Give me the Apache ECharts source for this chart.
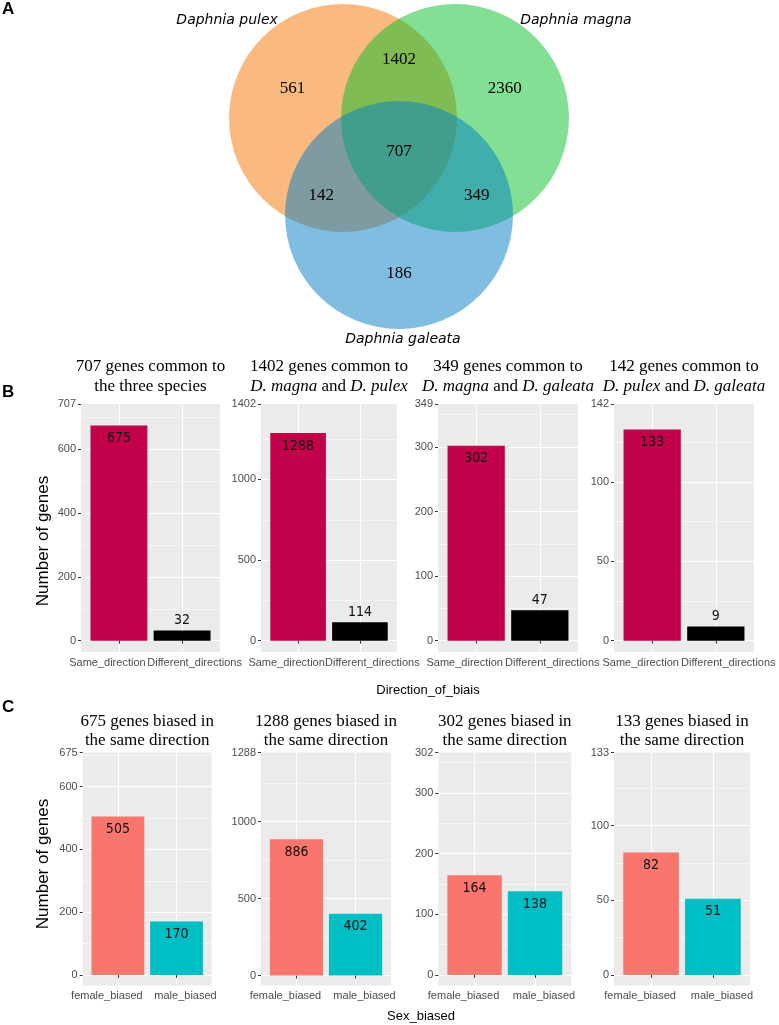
<!DOCTYPE html>
<html><head><meta charset="utf-8">
<script src="https://cdn.jsdelivr.net/npm/echarts@6/dist/echarts.min.js"></script>
<style>html,body{margin:0;padding:0;background:#fff}#c{width:779px;height:1025px}</style>
</head><body><div id="c"></div>
<script>
// ---------------- DATA ----------------
// Panel A : Venn diagram
const vennSets = ['Daphnia pulex', 'Daphnia magna', 'Daphnia galeata'];
const vennRegions = ['pulex only', 'pulex & magna', 'magna only', 'all three', 'pulex & galeata', 'magna & galeata', 'galeata only'];
const vennCounts = [561, 1402, 2360, 707, 142, 349, 186];

// Panel B : direction of bias
const bTitleLine1 = ['707 genes common to', '1402 genes common to', '349 genes common to', '142 genes common to'];
const bTitleLine2 = ['the three species', '{i|D. magna} and {i|D. pulex}', '{i|D. magna} and {i|D. galeata}', '{i|D. pulex} and {i|D. galeata}'];
const bCategories = ['Same_direction', 'Different_directions'];
const bSame = [675, 1288, 302, 133];
const bDifferent = [32, 114, 47, 9];
const bTotals = [707, 1402, 349, 142];
const bTickStep = [200, 500, 100, 50];
const bAxisTitle = 'Direction_of_biais';

// Panel C : sex bias of genes biased in the same direction
const cCategories = ['female_biased', 'male_biased'];
const cFemale = [505, 886, 164, 82];
const cMale = [170, 402, 138, 51];
const cTotals = [675, 1288, 302, 133];
const cTickStep = [200, 500, 100, 50];
const cAxisTitle = 'Sex_biased';
const yAxisTitle = 'Number of genes';

// ---------------- LAYOUT / STYLE ----------------
const SANS = '"Liberation Sans", Arial, sans-serif';
const NARROW = '"Liberation Sans Narrow", "DejaVu Sans Condensed", "Arial Narrow", "Liberation Sans", sans-serif';
const SERIF = '"Liberation Serif", "Times New Roman", serif';
const VENN_FONT = '"DejaVu Sans", Verdana, sans-serif';

const layoutB = [{left: 81, width: 139}, {left: 261, width: 136}, {left: 438, width: 140}, {left: 614, width: 140}];
const bTop = 404, bHeight = 248;
const bAxisMin = [-35.35, -70.1, -17.45, -7.1];
const bAxisMax = [742.35, 1468, 366.45, 149.1];
const bLabelShift = [-11.5, 12.5];
const layoutC = [{left: 82.7, width: 129}, {left: 261, width: 130}, {left: 438.3, width: 133}, {left: 614, width: 136}];
const cTop = 752.5, cHeight = 233;
const cAxisMin = [-33.75, -64.4, -17.45, -7.1];
const cAxisMax = [708.75, 1450, 366.45, 149.1];
const cLabelShift = [-11, 9];

const bColors = ['#C3004A', '#000000'];
const cColors = ['#F8766D', '#00BFC4'];
const vennColors = ['rgba(245,115,0,0.5)', 'rgba(5,191,41,0.5)', 'rgba(1,125,195,0.5)'];
// Venn geometry in diagram units
const vennCenters = [[-1, 0], [1, 0], [0, -1.732]];
const vennRadius = 2.035;
const vennLabelAt = [[-1.90, 0.52], [0, 1.04], [1.89, 0.52], [0, -0.59], [-1.39, -1.39], [1.39, -1.39], [0, -2.77]];
const vennNameAt = [[-3.07, 1.74], [3.16, 1.74], [0.07, -3.96]];

const grids = [], xAxes = [], yAxes = [], series = [], texts = [];

function addPanel(L, top, height, cats, vals, colors, labelCfg, shifts, total, yMin, yMax, step) {
  const gi = grids.length;
  grids.push({left: L.left, top: top, width: L.width, height: height, show: true,
    backgroundColor: '#EBEBEB', borderWidth: 0});
  const xBase = xAxes.length;
  cats.forEach((cat, i) => {
    const s = shifts[i];
    xAxes.push({gridIndex: gi, type: 'value', position: 'bottom', offset: 0, min: 0.4, max: 2.6,
      axisLine: {show: false},
      axisTick: {show: true, length: 3, customValues: [i + 1], lineStyle: {color: '#333333', width: 1}},
      axisLabel: {show: true, customValues: [i + 1], formatter: () => cat,
        padding: s < 0 ? [0, -2 * s, 0, 0] : [0, 0, 0, 2 * s],
        color: '#4D4D4D', fontSize: 11, fontFamily: SANS, margin: 5},
      splitLine: {show: true, lineStyle: {color: '#FFFFFF', width: 1.1}}});
  });
  const major = [], minor = [];
  for (let v = 0; v <= total; v += step) major.push(v);
  for (let v = step / 2; v < yMax; v += step) minor.push(v);
  const yBase = yAxes.length;
  const labelled = major.concat([yMax]);
  const yCommon = {gridIndex: gi, type: 'value', position: 'left', offset: 0, min: yMin, max: yMax, axisLine: {show: false}};
  yAxes.push(Object.assign({}, yCommon, {
    axisTick: {show: true, length: 3, customValues: labelled, lineStyle: {color: '#333333', width: 1}},
    axisLabel: {show: true, customValues: labelled, interval: 0, hideOverlap: false,
      showMinLabel: true, showMaxLabel: true,
      formatter: v => (Math.abs(v - yMax) < 1e-6 ? String(total) : String(v)),
      color: '#4D4D4D', fontSize: 11, fontFamily: SANS, margin: 5},
    splitLine: {show: false}}));
  yAxes.push(Object.assign({}, yCommon, {
    axisTick: {show: false, customValues: major}, axisLabel: {show: false},
    splitLine: {show: true, lineStyle: {color: '#FFFFFF', width: 1.1}}}));
  yAxes.push(Object.assign({}, yCommon, {
    axisTick: {show: false, customValues: minor}, axisLabel: {show: false},
    splitLine: {show: true, lineStyle: {color: '#FFFFFF', width: 0.55}}}));
  series.push({type: 'bar', xAxisIndex: xBase, yAxisIndex: yBase,
    barWidth: 0.9 / 2.2 * L.width, z: 5,
    data: vals.map((v, i) => ({value: [i + 1, v], itemStyle: {color: colors[i]},
      label: {show: true, position: labelCfg[i].pos, distance: labelCfg[i].dist,
        color: '#111111', fontSize: 14, fontFamily: NARROW}}))});
}

for (let k = 0; k < 4; k++) {
  addPanel(layoutB[k], bTop, bHeight, bCategories, [bSame[k], bDifferent[k]], bColors,
    [{pos: 'insideTop', dist: 6}, {pos: 'top', dist: 3}], bLabelShift, bTotals[k], bAxisMin[k], bAxisMax[k], bTickStep[k]);
  const cx = layoutB[k].left + layoutB[k].width / 2;
  texts.push({type: 'text', x: cx, y: 367, style: {text: bTitleLine1[k], fontFamily: SERIF, fontSize: 17,
    fill: '#000', align: 'center', verticalAlign: 'middle'}});
  texts.push({type: 'text', x: cx, y: 387, style: {text: bTitleLine2[k], fontFamily: SERIF, fontSize: 17,
    fill: '#000', align: 'center', verticalAlign: 'middle',
    rich: {i: {fontStyle: 'italic', fontFamily: SERIF, fontSize: 17, fill: '#000'}}}});
}
for (let k = 0; k < 4; k++) {
  addPanel(layoutC[k], cTop, cHeight, cCategories, [cFemale[k], cMale[k]], cColors,
    [{pos: 'insideTop', dist: 6}, {pos: 'insideTop', dist: 6}], cLabelShift, cTotals[k], cAxisMin[k], cAxisMax[k], cTickStep[k]);
  const cx = layoutC[k].left + layoutC[k].width / 2;
  texts.push({type: 'text', x: cx, y: 722, style: {text: cTotals[k] + ' genes biased in', fontFamily: SERIF, fontSize: 17,
    fill: '#000', align: 'center', verticalAlign: 'middle'}});
  texts.push({type: 'text', x: cx, y: 741, style: {text: 'the same direction', fontFamily: SERIF, fontSize: 17,
    fill: '#000', align: 'center', verticalAlign: 'middle'}});
}

// Venn grid (equal scale: 56 px per unit)
const vg = grids.length;
grids.push({left: 175, top: 6, width: 448, height: 336, show: false});
const vx = xAxes.length;
xAxes.push({gridIndex: vg, type: 'value', min: -4, max: 4, show: false});
const vy = yAxes.length;
yAxes.push({gridIndex: vg, type: 'value', min: -4, max: 2, show: false});

series.push({type: 'custom', coordinateSystem: 'cartesian2d', xAxisIndex: vx, yAxisIndex: vy, clip: false,
  data: vennSets.map((s, i) => ({name: s, value: [vennCenters[i][0], vennCenters[i][1], vennRadius, i]})),
  renderItem: (params, api) => {
    const c = api.coord([api.value(0), api.value(1)]);
    const r = api.size([api.value(2), 0])[0];
    return {type: 'circle', shape: {cx: c[0], cy: c[1], r: r}, style: {fill: vennColors[api.value(3)], stroke: null}};
  }});
series.push({type: 'custom', coordinateSystem: 'cartesian2d', xAxisIndex: vx, yAxisIndex: vy, clip: false, z: 10,
  data: vennCounts.map((n, i) => ({name: vennRegions[i], value: [vennLabelAt[i][0], vennLabelAt[i][1], n]})),
  renderItem: (params, api) => {
    const p = api.coord([api.value(0), api.value(1)]);
    return {type: 'text', x: p[0], y: p[1], style: {text: String(api.value(2)), fill: '#000',
      fontFamily: SERIF, fontSize: 17, align: 'center', verticalAlign: 'middle'}};
  }});
series.push({type: 'custom', coordinateSystem: 'cartesian2d', xAxisIndex: vx, yAxisIndex: vy, clip: false, z: 10,
  data: vennSets.map((s, i) => ({name: s, value: [vennNameAt[i][0], vennNameAt[i][1], i]})),
  renderItem: (params, api) => {
    const p = api.coord([api.value(0), api.value(1)]);
    return {type: 'text', x: p[0], y: p[1], style: {text: vennSets[api.value(2)], fill: '#000',
      fontFamily: VENN_FONT, fontStyle: 'italic', fontSize: 14, align: 'center', verticalAlign: 'middle'}};
  }});

// Panel letters, axis titles
[['A', 9], ['B', 392], ['C', 707]].forEach(([t, y]) => texts.push({type: 'text', x: 2, y: y,
  style: {text: t, fontFamily: SANS, fontWeight: 'bold', fontSize: 17, fill: '#000', align: 'left', verticalAlign: 'middle'}}));
[541, 864].forEach(y => texts.push({type: 'text', x: 43, y: y, rotation: Math.PI / 2,
  style: {text: yAxisTitle, fontFamily: SANS, fontSize: 17, fill: '#000', align: 'center', verticalAlign: 'middle'}}));
texts.push({type: 'text', x: 428, y: 690, style: {text: bAxisTitle, fontFamily: SANS, fontSize: 13, fill: '#000', align: 'center', verticalAlign: 'middle'}});
texts.push({type: 'text', x: 421, y: 1016, style: {text: cAxisTitle, fontFamily: SANS, fontSize: 13, fill: '#000', align: 'center', verticalAlign: 'middle'}});

const chart = echarts.init(document.getElementById('c'), null, {renderer: 'canvas'});
chart.setOption({
  animation: false,
  backgroundColor: '#FFFFFF',
  grid: grids, xAxis: xAxes, yAxis: yAxes, series: series,
  graphic: {elements: texts.map(t => Object.assign({silent: true}, t))}
});
</script></body></html>
